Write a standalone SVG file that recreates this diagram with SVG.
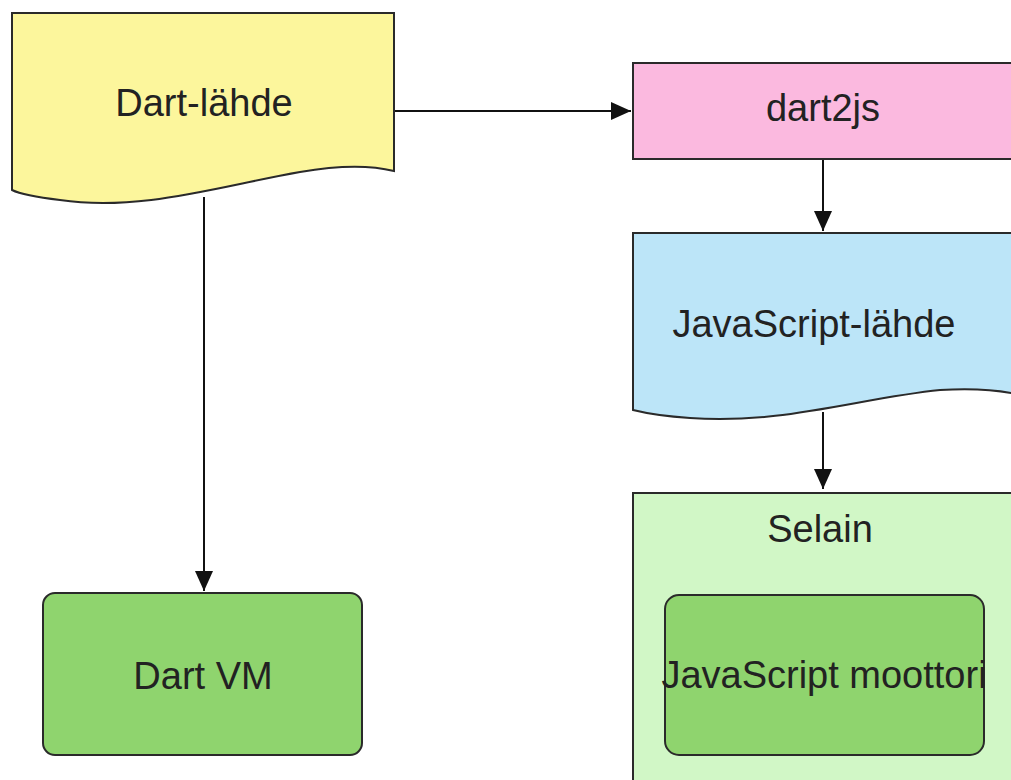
<svg xmlns="http://www.w3.org/2000/svg" width="1011" height="780" viewBox="0 0 1011 780">
<style>
.s{stroke:#2a2a2a;stroke-width:2}
.t{font-family:"Liberation Sans",Arial,sans-serif;font-size:38px;fill:#222;text-anchor:middle}
.c{stroke:#111;stroke-width:2;fill:none}
</style>
<defs>
<marker id="ah" viewBox="0 0 20 18" refX="20" refY="9" markerWidth="20" markerHeight="18" markerUnits="userSpaceOnUse" orient="auto">
<path d="M0,0 L20,9 L0,18 Z" fill="#111"/>
</marker>
</defs>
<rect width="1011" height="780" fill="#fff"/>
<g id="connectors">
<line class="c" x1="394" y1="111" x2="631" y2="111" marker-end="url(#ah)"/>
<line class="c" x1="204" y1="197" x2="204" y2="591" marker-end="url(#ah)"/>
<line class="c" x1="823" y1="159" x2="823" y2="231" marker-end="url(#ah)"/>
<line class="c" x1="823" y1="412" x2="823" y2="489" marker-end="url(#ah)"/>
</g>
<g id="dart-lahde">
<path class="s" fill="#FCF69C" d="M12,13 H394 V171 C370,165 340,165 300,172 C220,186 140,212 60,200 C35,197 20,194 12,190 Z"/>
<text class="t" x="204" y="116">Dart-lähde</text>
</g>
<g id="dart2js">
<rect class="s" fill="#FBB9DF" x="633" y="63" width="390" height="96"/>
<text class="t" x="823" y="121">dart2js</text>
</g>
<g id="js-lahde">
<path class="s" fill="#BCE5F8" d="M633,233 H1020 V395 C1000,390 975,388 940,390 C860,398 780,425 690,418 C660,416 645,413 633,410 Z"/>
<text class="t" x="814" y="337">JavaScript-lähde</text>
</g>
<g id="dart-vm">
<rect class="s" fill="#8FD46E" x="43" y="593" width="319" height="162" rx="12"/>
<text class="t" x="203" y="689">Dart VM</text>
</g>
<g id="selain">
<rect class="s" fill="#D1F7C6" x="633" y="493" width="390" height="300"/>
<text class="t" x="820" y="542">Selain</text>
</g>
<g id="js-moottori">
<rect class="s" fill="#8FD46E" x="665" y="595" width="319" height="160" rx="14"/>
<text class="t" x="824" y="688">JavaScript moottori</text>
</g>
</svg>
